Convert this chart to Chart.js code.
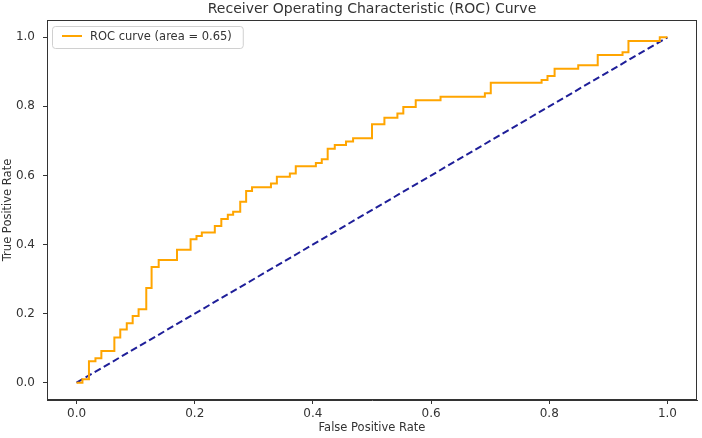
<!DOCTYPE html>
<html>
<head>
<meta charset="utf-8">
<script src="https://cdn.jsdelivr.net/npm/chart.js@4"></script>
<style>
  html, body { margin: 0; padding: 0; background: #fff; }
  #wrap { width: 702px; height: 438px; }
</style>
</head>
<body>
<div id="wrap"><canvas id="rocChart"></canvas></div>
<script>
// ROC curve: each fpr is where tpr jumps to the matching value
const fpr = [0.0, 0.01, 0.021, 0.032, 0.042, 0.064, 0.074, 0.085, 0.095, 0.105,
  0.118, 0.127, 0.139, 0.170, 0.193, 0.203, 0.212, 0.234, 0.245, 0.256,
  0.265, 0.277, 0.287, 0.297, 0.329, 0.339, 0.361, 0.371, 0.405, 0.415,
  0.425, 0.437, 0.456, 0.468, 0.500, 0.521, 0.543, 0.553, 0.574, 0.616,
  0.691, 0.701, 0.787, 0.797, 0.809, 0.849, 0.882, 0.924, 0.934, 0.987, 1.0];
const tpr = [0.0, 0.01, 0.062, 0.071, 0.092, 0.131, 0.154, 0.172, 0.193, 0.213,
  0.274, 0.335, 0.355, 0.385, 0.415, 0.425, 0.435, 0.454, 0.474, 0.486,
  0.495, 0.524, 0.555, 0.566, 0.577, 0.596, 0.606, 0.627, 0.636, 0.647,
  0.677, 0.688, 0.698, 0.708, 0.748, 0.767, 0.779, 0.798, 0.818, 0.828,
  0.838, 0.868, 0.876, 0.888, 0.909, 0.919, 0.949, 0.957, 0.989, 1.0, 1.0];
const chanceX = [0, 1];
const chanceY = [0, 1];
const tickValues = [0.0, 0.2, 0.4, 0.6, 0.8, 1.0];
const rocLabel = "ROC curve (area = 0.65)";

const textColor = "#333";
const axisColor = "#333";
const fontFamily = "'DejaVu Sans', sans-serif";

// matplotlib-style box around the axes, plus the legend in the top-left corner
const frames = {
  id: "frames",
  afterDraw(chart) {
    const c = chart.ctx;
    const a = chart.chartArea;
    c.save();
    c.strokeStyle = axisColor;
    c.lineWidth = 1;
    c.strokeRect(a.left + 0.5, a.top + 0.5, a.right - a.left - 1, a.bottom - a.top - 1);

    const ds = chart.data.datasets[0];
    c.font = "11.5px " + fontFamily;
    const tw = c.measureText(ds.label).width;
    const x = a.left + 5, y = a.top + 6;
    c.fillStyle = "rgba(255,255,255,0.8)";
    c.strokeStyle = "#d0d0d0";
    c.beginPath();
    c.roundRect(x + 0.5, y + 0.5, 43 + tw + 6, 22, 3);
    c.fill();
    c.stroke();
    c.strokeStyle = ds.borderColor;
    c.lineWidth = ds.borderWidth;
    c.beginPath();
    c.moveTo(x + 10, y + 10);
    c.lineTo(x + 30, y + 10);
    c.stroke();
    c.fillStyle = textColor;
    c.textBaseline = "middle";
    c.fillText(ds.label, x + 38, y + 11);
    c.restore();
  }
};

const fixTicks = (scale) => {
  scale.ticks = tickValues.map(v => ({ value: v }));
};

new Chart(document.getElementById("rocChart"), {
  type: "line",
  data: {
    datasets: [
      {
        label: rocLabel,
        data: fpr.map((x, i) => ({ x: x, y: tpr[i] })),
        borderColor: "#ffa500",
        borderWidth: 2,
        pointRadius: 0,
        stepped: true,
        fill: false,
      },
      {
        label: "chance",
        data: chanceX.map((x, i) => ({ x: x, y: chanceY[i] })),
        borderColor: "#1f1f99",
        borderWidth: 2,
        borderDash: [7, 3.5],
        pointRadius: 0,
        fill: false,
      },
    ],
  },
  options: {
    responsive: true,
    maintainAspectRatio: false,
    animation: false,
    layout: { padding: { left: 0, right: 5, top: 0, bottom: 0 } },
    plugins: {
      legend: { display: false },
      title: { display: false },
      tooltip: { enabled: false },
    },
    scales: {
      x: {
        type: "linear",
        min: -0.05,
        max: 1.05,
        afterBuildTicks: fixTicks,
        afterFit: (s) => { s.height = 38; },
        grid: { drawOnChartArea: false, drawTicks: true, tickLength: 4, tickColor: axisColor },
        border: { display: true, color: axisColor },
        ticks: {
          color: textColor,
          padding: 3,
          font: { family: fontFamily, size: 12 },
          callback: (v) => Number(v).toFixed(1),
        },
        title: {
          display: true,
          text: "False Positive Rate",
          color: textColor,
          font: { family: fontFamily, size: 11.5 },
          padding: { top: 0, bottom: 3 },
        },
      },
      // top axis only carries the chart title so it centres over the plot
      xTop: {
        type: "linear",
        position: "top",
        min: -0.05,
        max: 1.05,
        afterFit: (s) => { s.height = 20; },
        grid: { display: false },
        border: { display: false },
        ticks: { display: false },
        title: {
          display: true,
          text: "Receiver Operating Characteristic (ROC) Curve",
          color: textColor,
          font: { family: fontFamily, size: 14 },
          padding: { top: 1, bottom: 0 },
        },
      },
      y: {
        type: "linear",
        min: -0.05,
        max: 1.05,
        afterBuildTicks: fixTicks,
        afterFit: (s) => { s.width = 47; },
        grid: { drawOnChartArea: false, drawTicks: true, tickLength: 4, tickColor: axisColor },
        border: { display: true, color: axisColor },
        ticks: {
          color: textColor,
          padding: 8,
          font: { family: fontFamily, size: 12 },
          callback: (v) => Number(v).toFixed(1),
        },
        title: {
          display: true,
          text: "True Positive Rate",
          color: textColor,
          font: { family: fontFamily, size: 11.5 },
          padding: { top: 1, bottom: 0 },
        },
      },
    },
  },
  plugins: [frames],
});
</script>
</body>
</html>
